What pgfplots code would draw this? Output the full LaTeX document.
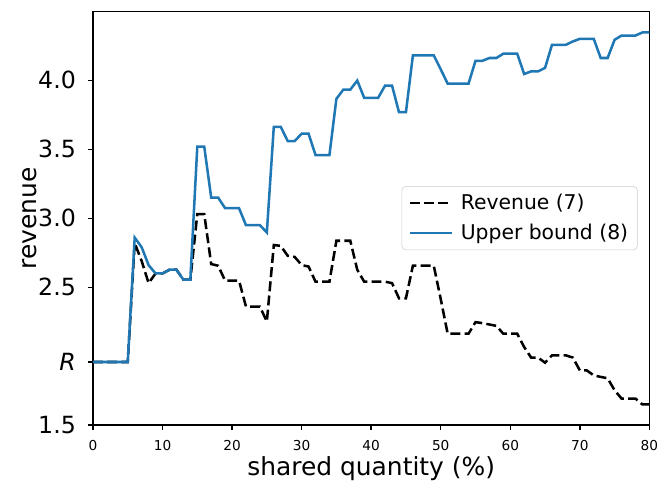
\documentclass[border=0pt]{standalone}
\usepackage{fontspec}
\setmainfont{DejaVu Sans}
\usepackage{pgfplots}
\pgfplotsset{compat=1.18}
\usetikzlibrary{calc}
\definecolor{mplblue}{HTML}{1F77B4}
\begin{document}
\begin{tikzpicture}
\begin{axis}[
  name=ax,
  scale only axis, width=418.8pt, height=311.25pt,
  xmin=0, xmax=80, ymin=1.5, ymax=4.498,
  axis line style={line width=1.1pt, black},
  tick align=outside, tick style={line width=1.1pt, black}, major tick length=4pt,
  xtick pos=left, ytick pos=left,
  xtick={0,10,...,80}, xticklabels={0,10,20,30,40,50,60,70,80},
  ytick={1.5,1.958,2.5,3.0,3.5,4.0}, yticklabels={1.5,\textit{R},2.5,3.0,3.5,4.0},
  xticklabel style={font=\fontsize{10.3pt}{12pt}\selectfont, anchor=north, inner sep=0pt, yshift=-7pt},
  yticklabel style={font=\fontsize{17.8pt}{20pt}\selectfont, anchor=east, inner sep=0pt, xshift=-8.7pt},
  xlabel={shared quantity (\%)}, ylabel={revenue},
  xlabel style={font=\fontsize{18.75pt}{22pt}\selectfont, at={(axis description cs:0.5,-0.121)}, anchor=base, inner sep=0pt},
  ylabel style={font=\fontsize{18.75pt}{22pt}\selectfont, at={(axis description cs:-0.1008,0.5)}, anchor=base, inner sep=0pt},
  legend style={at={(axis description cs:0.979,0.578)}, anchor=north east,
    draw=black!20, fill=white, fill opacity=0.8, text opacity=1, rounded corners=3pt,
    font=\fontsize{15.3pt}{18pt}\selectfont, row sep=5.5pt, column sep=3.5pt, inner xsep=5pt, inner ysep=4pt},
  legend cell align=left,
  legend image code/.code={\draw[#1] (0pt,0pt) -- (32pt,0pt);},
]
\addplot[black, line width=1.9pt, dash pattern=on 7.5pt off 3.2pt] coordinates {
(0,1.958)(1,1.958)(2,1.958)(3,1.958)(4,1.958)(5,1.958)
(6,2.82)(7,2.69)(8,2.53)(9,2.60)(10,2.60)(11,2.627)(12,2.627)(13,2.555)(14,2.555)
(15,3.03)(16,3.03)(17,2.668)(18,2.656)(19,2.548)(20,2.548)(21,2.548)
(22,2.36)(23,2.36)(24,2.36)(25,2.251)(26,2.806)(27,2.80)(28,2.728)(29,2.72)
(30,2.661)(31,2.65)(32,2.54)(33,2.54)(34,2.54)(35,2.837)(36,2.837)(37,2.837)
(38,2.627)(39,2.54)(40,2.54)(41,2.54)(42,2.54)(43,2.53)(44,2.42)(45,2.42)
(46,2.656)(47,2.656)(48,2.656)(49,2.656)(50,2.415)(51,2.163)(52,2.163)(53,2.163)(54,2.163)
(55,2.247)(56,2.24)(57,2.23)(58,2.22)(59,2.163)(60,2.163)(61,2.163)
(62,2.066)(63,1.99)(64,1.99)(65,1.953)(66,2.006)(67,2.006)(68,2.006)(69,1.99)
(70,1.897)(71,1.897)(72,1.861)(73,1.85)(74,1.84)(75,1.753)(76,1.693)(77,1.693)(78,1.693)
(79,1.65)(80,1.65)
};
\addlegendentry{Revenue (7)}
\addplot[mplblue, line width=1.9pt] coordinates {
(0,1.958)(1,1.958)(2,1.958)(3,1.958)(4,1.958)(5,1.958)
(6,2.86)(7,2.79)(8,2.66)(9,2.60)(10,2.60)(11,2.627)(12,2.627)(13,2.555)(14,2.555)
(15,3.519)(16,3.519)(17,3.15)(18,3.15)(19,3.073)(20,3.073)(21,3.073)
(22,2.95)(23,2.95)(24,2.95)(25,2.897)(26,3.663)(27,3.663)(28,3.56)(29,3.56)
(30,3.613)(31,3.613)(32,3.458)(33,3.458)(34,3.458)(35,3.866)(36,3.933)(37,3.933)
(38,3.998)(39,3.873)(40,3.873)(41,3.873)(42,3.962)(43,3.962)(44,3.769)(45,3.769)
(46,4.181)(47,4.181)(48,4.181)(49,4.181)(50,4.08)(51,3.976)(52,3.976)(53,3.976)(54,3.976)
(55,4.142)(56,4.142)(57,4.162)(58,4.162)(59,4.193)(60,4.193)(61,4.193)
(62,4.046)(63,4.065)(64,4.065)(65,4.09)(66,4.258)(67,4.258)(68,4.258)(69,4.282)
(70,4.301)(71,4.301)(72,4.301)(73,4.162)(74,4.162)(75,4.294)(76,4.325)(77,4.325)(78,4.325)
(79,4.347)(80,4.347)
};
\addlegendentry{Upper bound (8)}
\end{axis}
\pgfresetboundingbox
\path[use as bounding box] ($(ax.south west)+(-69.98pt,-41.48pt)$) rectangle ($(ax.north east)+(6.5pt,8.78pt)$);
\end{tikzpicture}
\end{document}
